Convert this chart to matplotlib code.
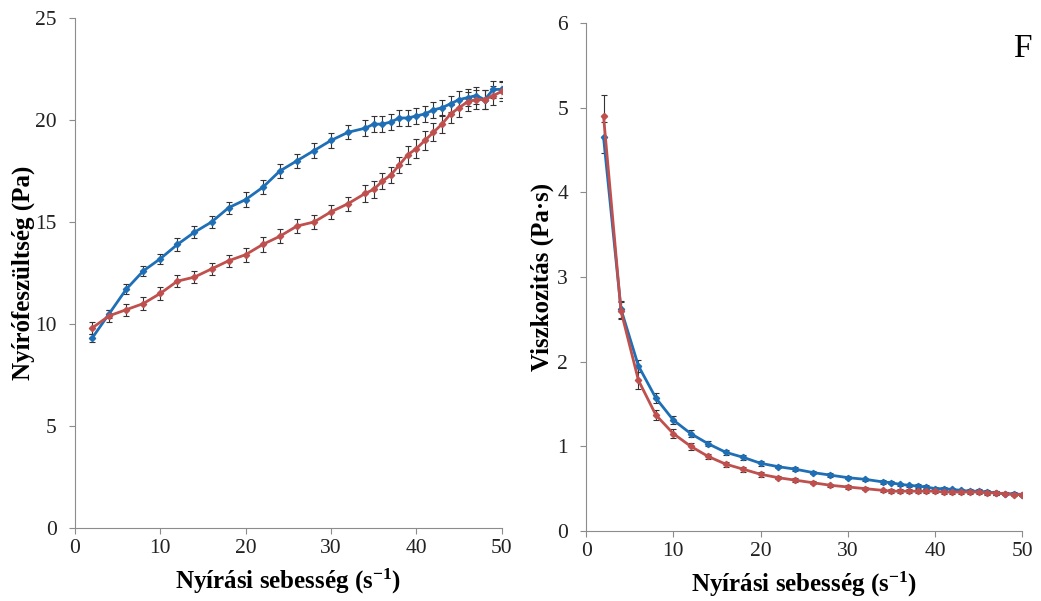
import numpy as np
import matplotlib
matplotlib.use("Agg")
import matplotlib.pyplot as plt

plt.rcParams['font.family'] = ['Liberation Serif', 'DejaVu Serif']
plt.rcParams['mathtext.fontset'] = 'custom'
plt.rcParams['mathtext.rm'] = 'Liberation Serif'
plt.rcParams['mathtext.bf'] = 'Liberation Serif:bold'

# shear rate (1/s)
rate = [2, 4, 6, 8, 10, 12, 14, 16, 18, 20, 22, 24, 26, 28, 30, 32, 34,
        35, 36, 37, 38, 39, 40, 41, 42, 43, 44, 45, 46, 47, 48, 49, 50]

# shear stress (Pa)
stress_up = [9.3, 10.5, 11.7, 12.6, 13.2, 13.9, 14.5, 15.0, 15.7, 16.1, 16.7,
             17.5, 18.0, 18.5, 19.0, 19.4, 19.6, 19.8, 19.8, 19.9, 20.1, 20.1,
             20.2, 20.3, 20.5, 20.6, 20.8, 21.0, 21.1, 21.2, 21.0, 21.5, 21.5]
stress_up_err = [0.2, 0.2, 0.25, 0.25, 0.25, 0.3, 0.3, 0.3, 0.3, 0.35, 0.35,
                 0.35, 0.35, 0.35, 0.35, 0.35, 0.4, 0.4, 0.4, 0.4, 0.4, 0.4,
                 0.4, 0.4, 0.4, 0.4, 0.4, 0.4, 0.4, 0.4, 0.45, 0.4, 0.4]
stress_down = [9.8, 10.4, 10.7, 11.0, 11.5, 12.1, 12.3, 12.7, 13.1, 13.4, 13.9,
               14.3, 14.8, 15.0, 15.5, 15.9, 16.4, 16.6, 17.0, 17.3, 17.8, 18.3,
               18.6, 19.0, 19.4, 19.8, 20.3, 20.6, 20.9, 21.0, 21.0, 21.2, 21.4]
stress_down_err = [0.3, 0.3, 0.3, 0.3, 0.3, 0.3, 0.3, 0.3, 0.3, 0.35, 0.35,
                   0.35, 0.35, 0.35, 0.35, 0.35, 0.4, 0.4, 0.4, 0.4, 0.4, 0.45,
                   0.45, 0.45, 0.45, 0.45, 0.45, 0.45, 0.45, 0.45, 0.45, 0.45, 0.45]

# viscosity (Pa s)
visc_up = [4.65, 2.62, 1.95, 1.57, 1.31, 1.15, 1.03, 0.93, 0.87, 0.80, 0.76,
           0.73, 0.69, 0.66, 0.63, 0.61, 0.58, 0.57, 0.55, 0.54, 0.53, 0.52,
           0.50, 0.50, 0.49, 0.48, 0.47, 0.47, 0.46, 0.45, 0.44, 0.44, 0.43]
visc_up_err = [0.18, 0.1, 0.07, 0.06, 0.05, 0.04, 0.03, 0.03, 0.03, 0.03, 0.02,
               0.02, 0.02, 0.02, 0.02, 0.02, 0.02, 0.02, 0.02, 0.02, 0.02, 0.02,
               0.02, 0.02, 0.02, 0.02, 0.02, 0.02, 0.02, 0.02, 0.02, 0.02, 0.02]
visc_down = [4.90, 2.60, 1.78, 1.37, 1.15, 1.00, 0.88, 0.79, 0.73, 0.67, 0.63,
             0.60, 0.57, 0.54, 0.52, 0.50, 0.48, 0.47, 0.47, 0.47, 0.47, 0.47,
             0.47, 0.46, 0.46, 0.46, 0.46, 0.46, 0.45, 0.45, 0.44, 0.43, 0.43]
visc_down_err = [0.25, 0.1, 0.1, 0.06, 0.05, 0.04, 0.03, 0.03, 0.03, 0.03, 0.02,
                 0.02, 0.02, 0.02, 0.02, 0.02, 0.02, 0.02, 0.02, 0.02, 0.02, 0.02,
                 0.02, 0.02, 0.02, 0.02, 0.02, 0.02, 0.02, 0.02, 0.02, 0.02, 0.02]

blue = '#1f6fb6'
red = '#c0504d'
grey = '#8c8c8c'

fig = plt.figure(figsize=(10.41, 6.01), dpi=100)
ax1 = fig.add_axes([0.072, 0.1215, 0.410, 0.8485])
ax2 = fig.add_axes([0.563, 0.1165, 0.419, 0.8452])

xlabel = r'Nyírási sebesség (s$\mathbf{^{-1}}$)'


def draw(ax, y1, e1, y2, e2):
    for y, e, c in [(y1, e1, blue), (y2, e2, red)]:
        ax.errorbar(rate, y, yerr=e, fmt='none', ecolor='#333333',
                    elinewidth=0.8, capsize=2, capthick=0.8, zorder=2)
        ax.plot(rate, y, color=c, lw=2.0, marker='D', ms=3.2, zorder=3)
    ax.set_xlim(0, 50)
    ax.set_xticks(range(0, 51, 10))
    for s in ['top', 'right']:
        ax.spines[s].set_visible(False)
    for s in ['left', 'bottom']:
        ax.spines[s].set_color(grey)
        ax.spines[s].set_linewidth(0.8)
    ax.tick_params(direction='out', color=grey, length=4, labelsize=15.5,
                   labelcolor='#222222')
    ax.tick_params(axis='y', pad=9)
    ax.tick_params(axis='x', pad=4)
    ax.set_xlabel(xlabel, fontsize=18, fontweight='bold', labelpad=6)


draw(ax1, stress_up, stress_up_err, stress_down, stress_down_err)
ax1.set_ylim(0, 25)
ax1.set_yticks(range(0, 26, 5))
ax1.set_ylabel('Nyírófeszültség (Pa)', fontsize=18, fontweight='bold', labelpad=0)

draw(ax2, visc_up, visc_up_err, visc_down, visc_down_err)
ax2.set_ylim(0, 6)
ax2.set_yticks(range(0, 7))
ax2.set_ylabel('Viszkozitás (Pa·s)', fontsize=18, fontweight='bold', labelpad=2)

fig.text(0.991, 0.905, 'F', fontsize=24, ha='right', va='baseline')

fig.savefig('out.png', dpi=100)
